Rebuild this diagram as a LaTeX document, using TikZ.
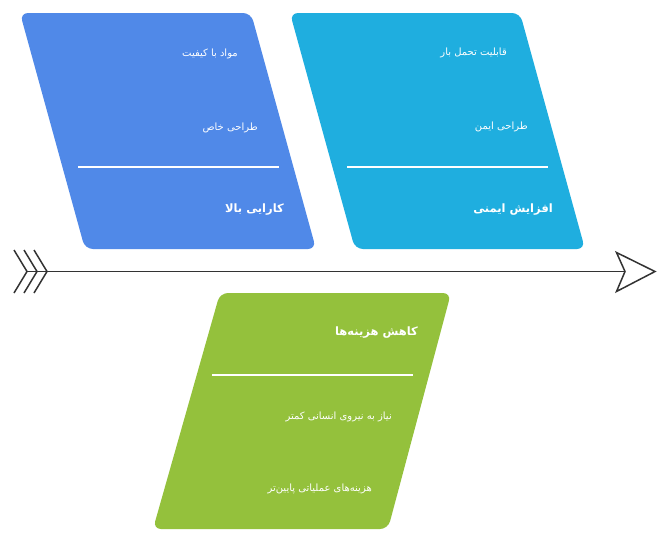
\documentclass[tikz,border=0pt]{standalone}
\usepackage{fontspec}
\newfontfamily\arabicfont[Script=Arabic]{DejaVu Sans}
\TeXXeTstate=1
\definecolor{cblue}{RGB}{80,137,232}
\definecolor{ccyan}{RGB}{31,174,223}
\definecolor{cgreen}{RGB}{148,193,60}
\definecolor{cspine}{RGB}{51,51,51}
\tikzset{
  bone/.style={rounded corners=8pt},
  item/.style={text=white, inner sep=0pt, anchor=east, font=\arabicfont\fontsize{10}{12}\selectfont},
  title/.style={text=white, inner sep=0pt, anchor=east, font=\arabicfont\bfseries\fontsize{11.5}{14}\selectfont},
  sep/.style={draw=white, line width=1.3pt},
  spine/.style={draw=cspine, line width=1.5pt, line join=miter},
}
\begin{document}
\begin{tikzpicture}[x=1pt,y=-1pt]
\useasboundingbox (0,0) rectangle (664,547);
\fill[white] (0,0) rectangle (664,547);
% boxes
\fill[cblue, bone] (20,13) -- (251,13) -- (316,249) -- (85,249) -- cycle;
\fill[ccyan, bone] (290,13) -- (520,13) -- (585,249) -- (355,249) -- cycle;
\fill[cgreen, bone] (220,293) -- (451,293) -- (388,529) -- (153,529) -- cycle;
% blue texts
\node[item] (b1) at (238,54) {\beginR مواد با کیفیت\endR};
\node[item] (b2) at (258,128) {\beginR طراحی خاص\endR};
\draw[sep] (78,167) -- (279,167);
\node[title] (bt) at (284,210) {\beginR کارایی بالا\endR};
% cyan texts
\node[item] (c1) at (507,53) {\beginR قابلیت تحمل بار\endR};
\node[item] (c2) at (528,127) {\beginR طراحی ایمن\endR};
\draw[sep] (347,167) -- (548,167);
\node[title] (ct) at (553,210) {\beginR افزایش ایمنی\endR};
% green texts
\node[title] (gt) at (418,333) {\beginR کاهش هزینه‌ها\endR};
\draw[sep] (212,375) -- (413,375);
\node[item] (g1) at (392,417) {\beginR نیاز به نیروی انسانی کمتر\endR};
\node[item] (g2) at (372,489) {\beginR هزینه‌های عملیاتی پایین‌تر\endR};
% spine
\coordinate (tail) at (27,271.5);
\coordinate (notch) at (625,271.5);
\coordinate (tip) at (655,271.5);
\draw[spine] (tail) -- (notch);
\draw[spine] (notch) -- (616.5,252.5) -- (tip) -- (616.5,291.5) -- cycle;
\draw[spine] (14,250) -- (27,271.5) -- (14,293);
\draw[spine] (24,250) -- (37,271.5) -- (24,293);
\draw[spine] (34,250) -- (47,271.5) -- (34,293);
\end{tikzpicture}
\end{document}
